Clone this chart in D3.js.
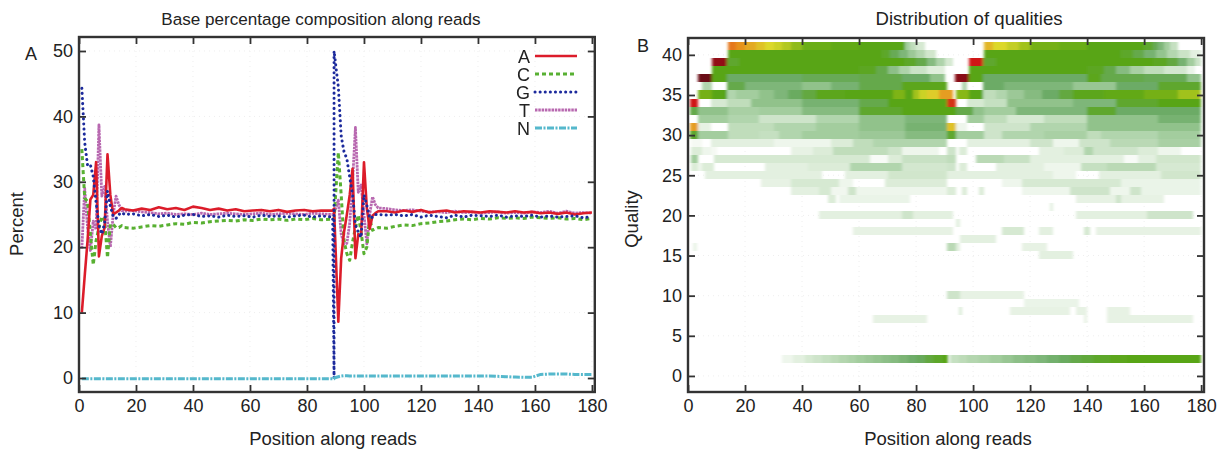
<!DOCTYPE html>
<html>
<head>
<meta charset="utf-8">
<script src="https://cdn.jsdelivr.net/npm/d3@7"></script>
<style>
  html, body { margin: 0; padding: 0; background: #fff; }
  text { font-family: "Liberation Sans", Arial, sans-serif; fill: #222; }
</style>
</head>
<body>
<div id="chart"></div>
<script>
// panel A: position along the read, the two reads meet near 90 (listed twice for the G jump)
const positions = [1,2,3,4,5,6,7,8,9,10,11,12,13,14,15,16,
  19,22,25,28,31,34,37,40,43,46,49,52,55,58,61,64,67,70,73,76,79,82,85,89,
  89.5,89.5,
  91,92,93,94,95,96,97,98,99,100,101,102,103,104,105,
  108,111,114,117,120,123,126,129,132,135,138,141,144,147,150,153,156,159,162,165,168,171,174,177,180];

const baseA = [10,15.6,21,27.3,28,33,18.6,21.7,23,34.2,28,25,25.3,25.6,26,25.8,
  25.6,25.9,25.7,26.1,25.8,26.0,25.7,26.2,26.0,25.7,25.9,25.6,25.8,25.5,25.6,25.7,25.5,25.7,25.4,25.6,25.7,25.5,25.6,25.6,
  25.9,25.9,
  8.6,18.3,22.3,25,28,32,18.3,22,21.8,33,26,22.8,24.8,25.2,25.5,
  25.5,25.3,25.6,25.4,25.7,25.3,25.5,25.6,25.3,25.5,25.4,25.3,25.5,25.4,25.3,25.5,25.3,25.4,25.2,25.3,25.1,25.3,25.0,25.2,25.3];
const baseC = [35,27.5,27,22,17.3,21,23,24.7,24,18.4,23.5,23.5,23,23,23.3,23,
  22.9,23.1,23.3,23.2,23.4,23.6,23.5,23.8,23.7,23.9,24.0,24.1,24.0,24.2,24.1,24.3,24.2,24.3,24.1,24.3,24.2,24.4,24.2,24.3,
  24.3,24.3,
  34.5,28,21,19,18,20.8,23,24.9,22.3,19,20,24.4,22.6,22.8,23,
  22.9,23.2,23.4,23.3,23.6,23.7,23.9,24.0,24.2,24.3,24.2,24.4,24.3,24.5,24.4,24.5,24.4,24.6,24.5,24.4,24.5,24.3,24.4,24.2,24.4];
const baseG = [44.3,36,32.5,32.6,30.8,26.8,23.3,22,23.7,28.6,26.3,24.7,24.4,25,25.3,25,
  25.1,24.8,25.0,24.7,24.9,24.6,24.9,25.0,24.7,24.8,24.6,24.9,24.7,24.8,24.6,24.9,24.7,24.8,24.6,24.8,24.9,24.6,24.8,24.6,
  0,50,
  44.5,37,34.6,33.5,30.7,28,23.4,22.3,21.5,28,26.4,24.4,24.6,25,25,
  24.9,25.0,24.8,25.0,24.6,24.9,24.7,24.5,24.9,24.6,24.9,24.8,24.7,24.9,24.6,24.8,24.7,24.9,24.6,24.8,24.6,24.7,24.8,24.5,24.7];
const baseT = [19.8,29,23,19.5,24,22.7,38.7,27.8,29.3,24,20,25,27.8,26.5,25.6,25.5,
  25.6,25.4,25.3,25.1,25.2,25.0,25.1,25.0,25.2,25.0,25.1,25.2,25.1,25.0,25.1,25.2,25.0,25.1,25.2,25.1,25.0,25.2,25.1,25.0,
  25.2,25.2,
  27.2,22,20.5,20.6,23.7,30,38.3,28.4,29.5,25,20.5,25,27.7,26.5,26,
  25.9,25.7,25.6,25.7,25.5,25.4,25.4,25.3,25.5,25.3,25.4,25.2,25.3,25.4,25.2,25.3,25.2,25.4,25.3,25.5,25.2,25.5,25.2,25.3,25.2];
const baseN = [-.1,-.1,-.1,-.1,-.1,-.1,-.1,-.1,-.1,-.1,-.1,-.1,-.1,-.1,-.1,-.1,
  -.1,-.1,-.1,-.1,-.1,-.1,-.1,-.1,-.1,-.1,-.1,-.1,-.1,-.1,-.1,-.1,-.1,-.1,-.1,-.1,-.1,-.1,-.1,-.1,
  -.1,0,
  .2,.3,.35,.35,.3,.3,.3,.3,.3,.3,.3,.3,.3,.3,.3,
  .3,.3,.3,.3,.3,.3,.3,.3,.3,.3,.3,.3,.3,.25,.2,.15,.12,.12,.55,.6,.6,.6,.55,.55,.55];

const legendNames = ["A","C","G","T","N"];
const legendColors = ["#dc1f2c","#58b030","#1c2a9c","#b868b0","#55b8cc"];
const legendDash = ["", "4 3", "0.1 5", "2.5 0.8", "7 1.5 2 1.5"];
const lineWidths = [2.6, 3, 3, 2.8, 3];
const baseSeries = [baseA, baseC, baseG, baseT, baseN];
const drawOrder = [3, 1, 0, 2, 4];

const xTicks = [0,20,40,60,80,100,120,140,160,180];
const percentTicks = [0,10,20,30,40,50];
const qualityTicks = [0,5,10,15,20,25,30,35,40];

// panel B: each row is a list of [from position, to position, shade] runs
const q41 = [[14,17,.83],[17,20,.81],[20,24,.79],[24,27,.77],[27,30,.75],[30,33,.73],[33,36,.7],[36,40,.66],[40,50,.62],[50,60,.61],[60,76,.6],[76,78,.3],[78,80,.2],[80,83,.12],
  [104,107,.78],[107,112,.75],[112,116,.72],[116,120,.68],[120,130,.63],[130,140,.62],[140,160,.6],[160,163,.55],[163,165,.48],[165,167,.4],[167,169,.3],[169,172,.18]];
const q40 = [[14,68,.6],[68,71,.56],[71,74,.48],[74,77,.4],[77,80,.32],[80,83,.24],[83,87,.14],
  [104,152,.6],[152,156,.56],[156,160,.5],[160,164,.42],[164,168,.34],[168,172,.24],[172,176,.16],[176,180,.08]];
const q39 = [[8.3,13.6,.96],[13.6,18,.55],[18,76,.6],[76,80,.56],[80,84,.5],[84,87,.38],[87,90,.26],[90,93,.12],
  [98.4,103.6,.9],[103.6,108,.55],[108,163,.6],[163,168,.57],[168,172,.52],[172,175,.42],[175,178,.3],[178,180,.16]];
const q38 = [[8.3,60,.6],[60,66,.57],[66,70,.5],[70,74,.36],[74,78,.26],[78,84,.16],[84,90,.09],
  [98.4,140,.6],[140,146,.57],[146,150,.5],[150,155,.38],[155,160,.28],[160,167,.2],[167,175,.13],[175,178,.06]];
const q37 = [[3.6,8.3,1],[8.3,13.6,.6],[13.6,40,.45],[40,60,.48],[60,75,.5],[75,85,.45],[85,90,.35],
  [93.7,98.4,.97],[98.4,103.6,.6],[103.6,140,.45],[140,145,.58],[145,160,.5],[160,175,.48],[175,180,.35]];
const q36 = [[5,8.3,.25],[13.6,20,.5],[20,40,.4],[40,50,.35],[50,60,.42],[60,75,.5],[75,91,.58],
  [96,98,.25],[103.6,111,.45],[111,135,.4],[135,150,.33],[150,165,.45],[165,180,.55]];
const q35 = [[3.6,8.3,.63],[8.3,13.6,.6],[13.6,17,.25],[17,25,.3],[25,30,.35],[30,35,.4],[35,40,.46],[40,45,.52],[45,55,.58],[55,72,.6],[72,76,.64],[76,79,.6],[79,81,.68],[81,84,.73],[84,88,.76],[88,93,.8],
  [94,98.4,.65],[98.4,103.6,.6],[103.6,108,.2],[108,112,.25],[112,118,.32],[118,124,.38],[124,130,.45],[130,135,.52],[135,146,.58],[146,160,.61],[160,172,.63],[172,180,.68]];
const q34 = [[.7,3.6,.9],[8,13.6,.12],[13.6,22,.2],[22,40,.35],[40,60,.42],[60,70,.5],[70,91,.6],
  [91,94,.88],[98,104,.12],[104,112,.18],[112,135,.35],[135,150,.4],[150,165,.55],[165,180,.6]];
const q33 = [[.7,3.6,.5],[3.6,14,.35],[14,25,.28],[25,40,.3],[40,60,.38],[60,75,.55],[75,94,.6],
  [94,100,.5],[100,104,.35],[104,115,.3],[115,140,.4],[140,150,.55],[150,180,.45]];
const q32 = [[3.6,14,.3],[14,25,.25],[25,45,.15],[45,60,.25],[60,76,.35],[76,91,.4],
  [98,104,.3],[104,112,.2],[112,125,.12],[125,140,.2],[140,165,.35],[165,180,.42]];
const q31 = [[.7,3.6,.8],[3.6,8,.07],[14,30,.2],[30,45,.25],[45,60,.3],[60,76,.35],[76,91,.42],
  [91,94,.77],[94,98,.05],[104,120,.15],[120,140,.25],[140,180,.35]];
const q30 = [[.7,3.6,.55],[3.6,14,.3],[14,25,.2],[25,32,.18],[32,40,.25],[40,60,.3],[60,76,.32],[76,91,.38],
  [91,94,.55],[94,104,.3],[104,110,.15],[110,125,.25],[125,140,.28],[140,145,.2],[145,165,.25],[165,180,.3]];
const q29 = [[1,5,.03],[8,30,.08],[30,50,.05],[50,58,.1],[58,65,.2],[65,91,.25],
  [98,120,.08],[120,128,.15],[128,137,.05],[137,148,.15],[148,165,.22],[165,180,.28]];
const q28 = [[1,5,.1],[5,8,.05],[8,10,.03],[36,44,.07],[44,51,.1],[51,54,.2],[54,70,.2],[70,75,.15],[75,88,.05],
  [91,94,.15],[95,98,.1],[123,132,.08],[132,139,.1],[139,142,.25],[142,158,.15],[158,165,.1],[165,173,.05]];
const q27 = [[1,3.6,.3],[9,64,.12],[64,70,.02],[70,75,.1],[75,91,.17],
  [91,94,.2],[101,111,.22],[111,120,.17],[120,153,.08],[153,158,.02],[158,164,.08],[164,180,.14]];
const q26 = [[1,3.6,.1],[3.6,5,.05],[5,9,.1],[27,42,.08],[42,57,.1],[57,75,.25],[75,91,.13],
  [91,94,.15],[95,98,.1],[108,125,.08],[125,138,.05],[138,147,.18],[147,164,.22],[164,180,.12]];
const q25 = [[6,47,.08],[55,70,.08],[70,91,.14],
  [91,128,.08],[128,136,.05],[144,166,.08],[166,180,.14]];
const q24 = [[25.6,36,.07],[36,53,.12],[53,58,.05],[69,91,.1],
  [110,117,.05],[117,141,.12],[141,152,.12],[152,180,.06]];
const q23 = [[36,46,.08],[46,50,.12],[50,56,.04],[56,59,.15],[59,91,.05],
  [91,94,.1],[96,98,.1],[102,104,.1],[117,134,.05],[134,148,.15],[148,155,.05],[155,159,.15],[159,180,.06]];
const q22 = [[49,52,.1],[53,78,.06],[136,150,.07],[150,152,.15],[152,167,.07]];
const q21 = [[127,128,.08]];
const q20 = [[46,75,.08],[75,79,.15],[79,91,.08],[91,93,.08],[136,161,.08],[161,177,.15]];
const q19 = [[94,95.5,.08]];
const q18 = [[58,93,.07],[110,118,.12],[123,128,.08],[139,141,.12],[143,180,.07]];
const q17 = [[95.5,108,.08]];
const q16 = [[1.9,3.3,.06],[91,94,.22],[94,95.5,.08],[117,126,.07]];
const q15 = [[123,135,.08]];
const q10 = [[91,95.5,.15],[95.5,118,.07]];
const q9 = [[118,137,.06]];
const q8 = [[95,96,.1],[113,134,.07],[136,140,.07],[147,155,.07]];
const q7 = [[65,84,.07],[139,140,.07],[147,177,.07]];
const q2 = [[33,37,.05],[37,41,.08],[41,44,.12],[44,47,.15],[47,50,.18],[50,53,.21],[53,56,.24],[56,59,.27],[59,62,.3],[62,65,.32],[65,68,.34],[68,71,.36],[71,74,.38],[74,77,.41],[77,80,.44],[80,83,.47],[83,86,.52],[86,89,.56],[89,91.2,.6],
  [91.8,95,.18],[95,98,.21],[98,102,.24],[102,106,.27],[106,110,.3],[110,114,.33],[114,118,.36],[118,122,.38],[122,126,.4],[126,130,.43],[130,134,.46],[134,138,.5],[138,142,.53],[142,148,.56],[148,154,.58],[154,180,.6]];

const rowQualities = [41,40,39,38,37,36,35,34,33,32,31,30,29,28,27,26,25,24,23,22,21,20,19,18,17,16,15,10,9,8,7,2];
const rowRuns = [q41,q40,q39,q38,q37,q36,q35,q34,q33,q32,q31,q30,q29,q28,q27,q26,q25,q24,q23,q22,q21,q20,q19,q18,q17,q16,q15,q10,q9,q8,q7,q2];

const shadeStops = [0,.1,.3,.45,.6,.65,.75,.82,.9,1];
const shadeColors = ["#ffffff","#dcecd8","#a3cd9e","#6cab66","#58a514","#88b818","#dcd82c","#e8861c","#cf1414","#6a0a14"];

var width = 1218, height = 450;
var svg = d3.select("#chart").append("svg")
  .attr("width", width).attr("height", height)
  .style("display", "block");

var defs = svg.append("defs");
defs.append("filter").attr("id", "soft").attr("x", "-2%").attr("y", "-2%").attr("width", "104%").attr("height", "104%")
  .append("feGaussianBlur").attr("stdDeviation", 0.6);
defs.append("filter").attr("id", "softer").attr("x", "-2%").attr("y", "-2%").attr("width", "104%").attr("height", "104%")
  .append("feGaussianBlur").attr("stdDeviation", "1.4 0.7");

// scales for both panels
var xA = d3.scaleLinear().domain([0, 181]).range([79, 594.8]);
var yA = d3.scaleLinear().domain([-2.14, 52.14]).range([392, 37]);
var xB = d3.scaleLinear().domain([0, 181]).range([688, 1204]);
var yB = d3.scaleLinear().domain([-2, 42.1]).range([392, 38]);

function drawFrame(x, y, yTicks) {
  var g = svg.append("g");
  var x0 = x.range()[0], x1 = x.range()[1], y0 = y.range()[0], y1 = y.range()[1];

  // faint gnuplot style dotted grid
  g.selectAll(".gx").data(xTicks).enter().append("line")
    .attr("x1", d => x(d)).attr("x2", d => x(d)).attr("y1", y0).attr("y2", y1)
    .attr("stroke", "#eeeeee").attr("stroke-dasharray", "1 4");
  g.selectAll(".gy").data(yTicks).enter().append("line")
    .attr("x1", x0).attr("x2", x1).attr("y1", d => y(d)).attr("y2", d => y(d))
    .attr("stroke", "#eeeeee").attr("stroke-dasharray", "1 4");
  return g;
}

function drawAxes(x, y, yTicks) {
  var x0 = x.range()[0], x1 = x.range()[1], y0 = y.range()[0], y1 = y.range()[1];
  var g = svg.append("g");

  var bottom = g.append("g").attr("transform", `translate(0,${y0})`)
    .call(d3.axisBottom(x).tickValues(xTicks).tickSize(-7).tickPadding(7));
  var top = g.append("g").attr("transform", `translate(0,${y1})`)
    .call(d3.axisTop(x).tickValues(xTicks).tickSize(-7).tickFormat(""));
  var left = g.append("g").attr("transform", `translate(${x0},0)`)
    .call(d3.axisLeft(y).tickValues(yTicks).tickSize(-7).tickPadding(6));
  var right = g.append("g").attr("transform", `translate(${x1},0)`)
    .call(d3.axisRight(y).tickValues(yTicks).tickSize(-7).tickFormat(""));

  [bottom, top, left, right].forEach(function(a) {
    a.select(".domain").remove();
    a.selectAll(".tick line").attr("stroke", "#333").attr("stroke-width", 1.8);
    a.selectAll("text").style("font-size", "18px").style("font-family", '"Liberation Sans"').attr("fill", "#222");
  });

  g.append("rect")
    .attr("x", x0).attr("y", y1).attr("width", x1 - x0).attr("height", y0 - y1)
    .attr("fill", "none").attr("stroke", "#333").attr("stroke-width", 2.4);
}

function label(txt, x, y, size, rotate) {
  var t = svg.append("text").attr("text-anchor", "middle").style("font-size", size + "px").text(txt);
  if (rotate) t.attr("transform", `translate(${x},${y}) rotate(-90)`);
  else t.attr("x", x).attr("y", y);
}

// panel A
drawFrame(xA, yA, percentTicks);

var lineGen = d3.line()
  .x(d => xA(d[0]))
  .y(d => yA(d[1]));

var linesG = svg.append("g").attr("filter", "url(#soft)");
drawOrder.forEach(function(i) {
  var pts = positions.map((p, k) => [p, baseSeries[i][k]]);
  linesG.append("path")
    .attr("d", lineGen(pts))
    .attr("fill", "none")
    .attr("stroke", legendColors[i])
    .attr("stroke-width", lineWidths[i])
    .attr("stroke-dasharray", legendDash[i])
    .attr("stroke-linecap", i == 2 ? "round" : "butt")
    .attr("stroke-linejoin", "round");
});

drawAxes(xA, yA, percentTicks);

// legend, placed in pixels inside the plot frame
var legend = svg.append("g").attr("filter", "url(#soft)");
legendNames.forEach(function(n, i) {
  var ly = 56 + i * 18;
  legend.append("line")
    .attr("x1", 535).attr("x2", 577).attr("y1", ly).attr("y2", ly)
    .attr("stroke", legendColors[i])
    .attr("stroke-width", lineWidths[i])
    .attr("stroke-dasharray", legendDash[i])
    .attr("stroke-linecap", i == 2 ? "round" : "butt");
  legend.append("text")
    .attr("x", 530).attr("y", ly + 6.5)
    .attr("text-anchor", "end")
    .style("font-size", "18px")
    .text(n);
});

label("Base percentage composition along reads", 321, 25, 17.1);
label("Position along reads", 333, 445, 18.5);
label("Percent", 23, 224, 18.5, true);
label("A", 31, 60, 18);

// panel B
drawFrame(xB, yB, qualityTicks);

var shade = d3.scaleLinear().domain(shadeStops).range(shadeColors);

// crisp rects so no white seams show between rows before the blur
var heat = svg.append("g").attr("filter", "url(#softer)");
rowQualities.forEach(function(q, i) {
  heat.selectAll(".r" + q).data(rowRuns[i]).enter().append("rect")
    .attr("x", d => xB(d[0]))
    .attr("width", d => xB(d[1]) - xB(d[0]))
    .attr("y", yB(q + 0.5) - 0.5)
    .attr("height", yB(q - 0.5) - yB(q + 0.5))
    .attr("shape-rendering", "crispEdges")
    .attr("fill", d => shade(d[2]));
});

drawAxes(xB, yB, qualityTicks);

label("Distribution of qualities", 969, 25, 18.6);
label("Position along reads", 948, 445, 18.5);
label("Quality", 638, 219, 18.5, true);
label("B", 643, 52, 18);
</script>
</body>
</html>
